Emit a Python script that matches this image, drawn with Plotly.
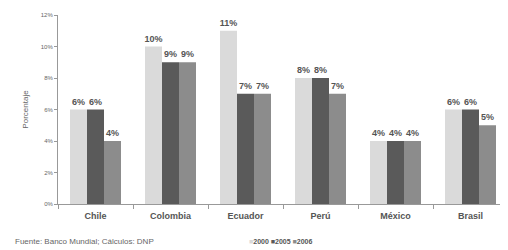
import plotly.graph_objects as go

categories = ["Chile", "Colombia", "Ecuador", "Perú", "México", "Brasil"]
years = ["2000", "2005", "2006"]
values_2000 = [6, 10, 11, 8, 4, 6]
values_2005 = [6, 9, 7, 8, 4, 6]
values_2006 = [4, 9, 7, 7, 4, 5]
y_ticks = [0, 2, 4, 6, 8, 10, 12]
y_tick_labels = ["0%", "2%", "4%", "6%", "8%", "10%", "12%"]

series = [values_2000, values_2005, values_2006]
colors = ["#dadada", "#5a5a5a", "#8c8c8c"]

fig = go.Figure()
for name, vals, col in zip(years, series, colors):
    fig.add_trace(go.Bar(
        x=categories, y=vals, name=name,
        marker=dict(color=col, line=dict(width=0)),
        text=[f"{v}%" for v in vals], textposition="outside",
        textfont=dict(size=9, color="#555555", family="Liberation Sans", weight="bold"),
        cliponaxis=False,
    ))

legend_html = " ".join(
    f"<span style='color:{c}'>■</span>{y}" for y, c in zip(years, colors)
)

# page body has an 8px margin, so the figure is sized/offset accordingly
fig.update_layout(
    width=500, height=242,
    margin=dict(l=50, r=0, t=7, b=46, autoexpand=False),
    paper_bgcolor="white", plot_bgcolor="white",
    barmode="group", bargap=0.32, bargroupgap=0,
    font=dict(family="Liberation Sans", color="#555555"),
    showlegend=False,
    uniformtext=dict(minsize=9, mode="show"),
)
fig.update_xaxes(
    showline=True, linecolor="#999999", linewidth=1, automargin=False,
    ticks="outside", tickson="boundaries", ticklen=4, tickcolor="#999999",
    tickfont=dict(size=9, color="#555555", family="Liberation Sans", weight="bold"),
    ticklabelstandoff=3,
)
fig.update_yaxes(
    range=[0, 12], tickvals=y_ticks, ticktext=y_tick_labels, automargin=False,
    showline=True, linecolor="#999999", linewidth=1, showgrid=False,
    ticks="outside", ticklen=3, tickcolor="#999999",
    tickfont=dict(size=6, color="#666666"),
    title=dict(text="Porcentaje", font=dict(size=8, color="#666666"), standoff=10),
    zeroline=False,
)
fig.add_annotation(
    text="Fuente: Banco Mundial; Cálculos: DNP", xref="paper", yref="paper",
    x=-0.1, y=-0.196, xanchor="left", yanchor="middle", showarrow=False,
    font=dict(size=8, color="#666666"),
)
fig.add_annotation(
    text=legend_html, xref="paper", yref="paper",
    x=0.42, y=-0.196, xanchor="left", yanchor="middle", showarrow=False,
    font=dict(size=7, color="#555555", weight="bold"),
)
fig.write_html("out.html")
